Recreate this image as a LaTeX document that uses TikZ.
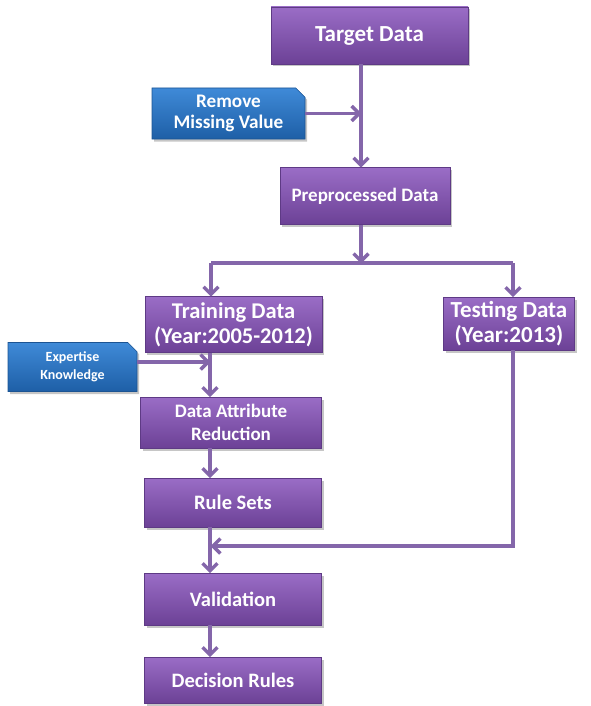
\documentclass[tikz,border=0pt]{standalone}
\usepackage{fontspec}
\setmainfont{Carlito}
\usetikzlibrary{arrows.meta,shapes.misc,shadows}
\definecolor{pTop}{HTML}{9A6DC6}
\definecolor{pBot}{HTML}{6C4196}
\definecolor{pEdge}{HTML}{5E3A85}
\definecolor{lnCol}{HTML}{8466AA}
\definecolor{bTop}{HTML}{3F8AD8}
\definecolor{bBot}{HTML}{1E5FA6}
\definecolor{bEdge}{HTML}{1B5493}
\tikzset{
  pbox/.style={rectangle, draw=pEdge, line width=0.6pt, top color=pTop, bottom color=pBot,
    text=white, font=\bfseries\fontsize{20.5}{23}\selectfont, align=center, inner sep=0pt,
    drop shadow={opacity=0.45, shadow xshift=2pt, shadow yshift=-2.5pt}},
  bbox/.style={chamfered rectangle, chamfered rectangle corners=north east, chamfered rectangle xsep=6pt,
    draw=bEdge, line width=0.6pt, top color=bTop, bottom color=bBot,
    text=white, align=center, inner sep=0pt,
    drop shadow={opacity=0.45, shadow xshift=2pt, shadow yshift=-2.5pt}},
  conn/.style={draw=lnCol, line width=3.4pt},
  arr/.style={conn, -{Straight Barb[length=7.5pt,width=15pt,line width=3.4pt]}, shorten >=-0.5pt},
}
\begin{document}
\begin{tikzpicture}[x=1pt,y=-1pt]
\useasboundingbox (0,0) rectangle (590,706);
\coordinate (colT) at (361,0);
\coordinate (colL) at (210,0);
\coordinate (jn) at (361,263);
\coordinate (jl) at (211,263);
\coordinate (jr) at (513,263);
\coordinate (ret) at (211,546);

\node[pbox, minimum width=197pt, minimum height=57pt, font=\bfseries\fontsize{23}{25}\selectfont] (target) at (369.5,35.5) {Target Data};
\node[bbox, minimum width=153pt, minimum height=51pt, font=\bfseries\fontsize{19.2}{21}\selectfont] (rmv) at (228.5,113.5) {Remove\\Missing Value};
\node[pbox, minimum width=170pt, minimum height=57pt, font=\bfseries\fontsize{19}{21}\selectfont] (pre) at (365,196) {Preprocessed Data};
\node[pbox, minimum width=177pt, minimum height=56pt, font=\bfseries\fontsize{22.5}{25}\selectfont] (train) at (233.5,324.5) {Training Data\\(Year:2005-2012)};
\node[pbox, minimum width=131pt, minimum height=53pt, font=\bfseries\fontsize{23}{25}\selectfont] (test) at (509,323.5) {Testing Data\\(Year:2013)};
\node[bbox, minimum width=129pt, minimum height=49pt, font=\bfseries\fontsize{14}{18}\selectfont] (exp) at (72.5,367) {Expertise\\Knowledge};
\node[pbox, minimum width=181pt, minimum height=51pt, font=\bfseries\fontsize{19}{23}\selectfont] (dar) at (231,422.5) {Data Attribute\\Reduction};
\node[pbox, minimum width=177pt, minimum height=49pt] (rules) at (233,502.5) {Rule Sets};
\node[pbox, minimum width=177pt, minimum height=52pt] (valid) at (233,599) {Validation};
\node[pbox, minimum width=177pt, minimum height=46pt] (dec) at (233,680) {Decision Rules};

\draw[arr] (target.south -| colT) -- (pre.north -| colT);
\draw[arr] (rmv.east) -- (rmv.east -| colT);
\draw[arr] (pre.south -| colT) -- (jn);
\draw[conn] (jl) -- (jr);
\draw[arr] (jl) -- (train.north -| jl);
\draw[arr] (jr) -- (test.north -| jr);
\draw[arr] (train.south -| colL) -- (dar.north -| colL);
\draw[arr] ([yshift=5pt]exp.east) -- ([yshift=5pt]exp.east -| colL);
\draw[arr] (dar.south -| colL) -- (rules.north -| colL);
\draw[arr] (rules.south -| colL) -- (valid.north -| colL);
\draw[arr] (test.south -| jr) |- (ret);
\draw[arr] (valid.south -| colL) -- (dec.north -| colL);
\end{tikzpicture}
\end{document}
